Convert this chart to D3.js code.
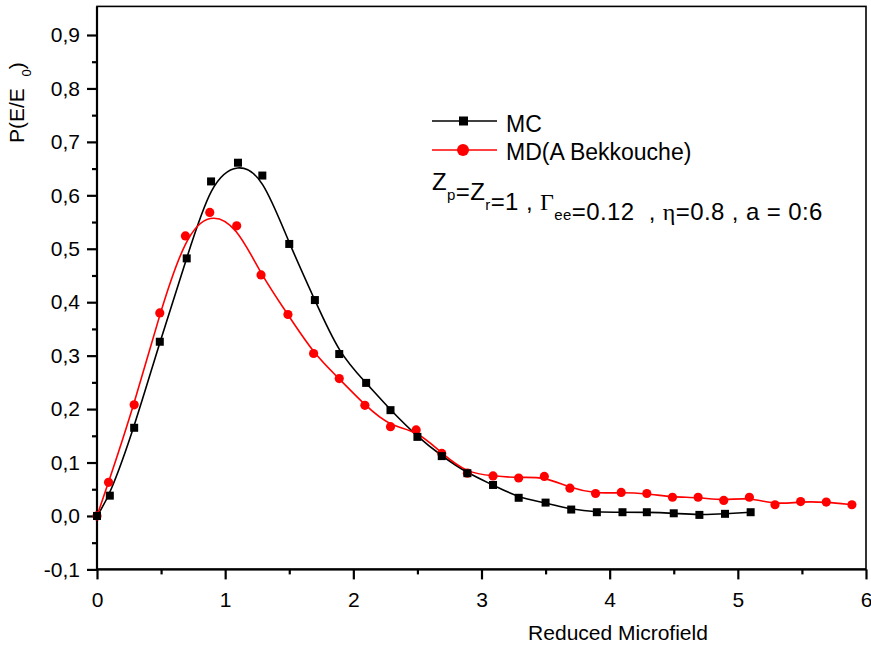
<!DOCTYPE html>
<html>
<head>
<meta charset="utf-8">
<script src="https://cdn.jsdelivr.net/npm/d3@7"></script>
<style>
  body { margin: 0; background: #fff; }
  svg { display: block; font-family: "Liberation Sans", Arial, sans-serif; }
  .axis path, .axis line { stroke: #000; stroke-width: 2.2; }
  .axis text { font-size: 21px; fill: #000; }
  .frame { fill: none; stroke: #000; stroke-width: 1.6; }
  .legend text { fill: #000; }
</style>
</head>
<body>
<div id="chart"></div>
<script>
// Monte Carlo microfield distribution
var mc_x = [0, 0.1, 0.29, 0.49, 0.7, 0.89, 1.1, 1.29, 1.5, 1.7, 1.89, 2.1, 2.29, 2.5,
            2.69, 2.89, 3.09, 3.29, 3.5, 3.7, 3.9, 4.1, 4.29, 4.5, 4.7, 4.9, 5.1];
var mc_y = [0, 0.038, 0.165, 0.326, 0.482, 0.626, 0.661, 0.637, 0.509, 0.404, 0.303, 0.249,
            0.198, 0.148, 0.112, 0.080, 0.058, 0.034, 0.025, 0.012, 0.007, 0.007, 0.007,
            0.005, 0.002, 0.004, 0.007];

// molecular dynamics (A Bekkouche)
var md_x = [0, 0.09, 0.29, 0.49, 0.69, 0.88, 1.09, 1.28, 1.49, 1.69, 1.89, 2.09, 2.29, 2.49,
            2.69, 2.89, 3.09, 3.29, 3.49, 3.69, 3.89, 4.09, 4.29, 4.49, 4.69, 4.89, 5.09,
            5.29, 5.49, 5.69, 5.89];
var md_y = [0, 0.063, 0.208, 0.380, 0.524, 0.568, 0.543, 0.451, 0.377, 0.304, 0.257, 0.207,
            0.167, 0.161, 0.117, 0.080, 0.075, 0.071, 0.074, 0.052, 0.042, 0.044, 0.042,
            0.035, 0.035, 0.029, 0.035, 0.021, 0.027, 0.026, 0.021];

var x_ticks = [0, 1, 2, 3, 4, 5, 6];
var x_minor = [0.5, 1.5, 2.5, 3.5, 4.5, 5.5];
var y_ticks = [-0.1, 0, 0.1, 0.2, 0.3, 0.4, 0.5, 0.6, 0.7, 0.8, 0.9];
var y_minor = [-0.05, 0.05, 0.15, 0.25, 0.35, 0.45, 0.55, 0.65, 0.75, 0.85];

var x_title = 'Reduced Microfield';
var series_names = ['MC', 'MD(A Bekkouche)'];

var w = 871, h = 649;

var x = d3.scaleLinear().domain([0, 6]).range([97, 866]);
var y = d3.scaleLinear().domain([-0.1, 0.9]).range([569.4, 35]);
var y_top = 0.9535;

var comma = d3.formatLocale({ decimal: ',', thousands: '.', grouping: [3], currency: ['', ''], minus: '-' });
var y_fmt = comma.format('.1f');

var svg = d3.select('#chart').append('svg')
  .attr('width', w)
  .attr('height', h);

// box around the plot area
svg.append('rect')
  .attr('class', 'frame')
  .attr('x', x(0))
  .attr('y', y(y_top))
  .attr('width', x(6) - x(0))
  .attr('height', y(-0.1) - y(y_top));

function axis_pair(g, axis, major, minor, fmt, pad) {
  g.append('g')
    .attr('class', 'axis')
    .call(axis.tickValues(minor).tickSize(5).tickSizeOuter(0).tickFormat(''))
    .select('.domain').remove();
  g.append('g')
    .attr('class', 'axis')
    .call(axis.tickValues(major).tickSize(10).tickSizeOuter(0).tickPadding(pad).tickFormat(fmt));
}

var gx = svg.append('g').attr('transform', `translate(0, ${ y(-0.1) })`);
axis_pair(gx, d3.axisBottom(x), x_ticks, x_minor, d3.format('d'), 13);
gx.select('.domain').attr('d', `M${ x(0) },0H${ x(6) }`);

var gy = svg.append('g').attr('transform', `translate(${ x(0) }, 0)`);
axis_pair(gy, d3.axisLeft(y), y_ticks, y_minor, y_fmt, 7);
gy.selectAll('.domain').attr('d', `M0,${ y(-0.1) }V${ y(y_top) }`);

svg.append('text')
  .attr('x', 618)
  .attr('y', 640)
  .attr('text-anchor', 'middle')
  .style('font-size', '21px')
  .text(x_title);

// y title with the subscript zero
var yt = svg.append('text')
  .attr('transform', 'translate(24, 143) rotate(-90)')
  .style('font-size', '21px')
  .style('white-space', 'pre');
yt.append('tspan').text('P(E/E  ');
yt.append('tspan').attr('dy', 7).style('font-size', '13px').text('0');
yt.append('tspan').attr('dy', -7).text(')');

var line = d3.line()
  .x(d => x(d[0]))
  .y(d => y(d[1]))
  .curve(d3.curveBasis);

var mc = d3.zip(mc_x, mc_y);
var md = d3.zip(md_x, md_y);

svg.append('path')
  .datum(mc)
  .attr('fill', 'none')
  .attr('stroke', '#000')
  .attr('stroke-width', 1.6)
  .attr('d', line);

svg.append('path')
  .datum(md)
  .attr('fill', 'none')
  .attr('stroke', '#ff0000')
  .attr('stroke-width', 1.6)
  .attr('d', line);

svg.append('g').selectAll('circle')
  .data(md)
  .enter().append('circle')
  .attr('cx', d => x(d[0]))
  .attr('cy', d => y(d[1]))
  .attr('r', 4.6)
  .attr('fill', '#ff0000');

svg.append('g').selectAll('rect')
  .data(mc)
  .enter().append('rect')
  .attr('x', d => x(d[0]) - 4)
  .attr('y', d => y(d[1]) - 4)
  .attr('width', 8)
  .attr('height', 8)
  .attr('fill', '#000');

// legend
var lg = svg.append('g').attr('class', 'legend');

lg.append('line').attr('x1', 432).attr('x2', 497).attr('y1', 121).attr('y2', 121)
  .attr('stroke', '#000').attr('stroke-width', 1.6);
lg.append('rect').attr('x', 459).attr('y', 116.5).attr('width', 9).attr('height', 9)
  .attr('fill', '#000');
lg.append('text').attr('x', 506).attr('y', 131.5).style('font-size', '23px')
  .text(series_names[0]);

lg.append('line').attr('x1', 432).attr('x2', 497).attr('y1', 150).attr('y2', 150)
  .attr('stroke', '#ff0000').attr('stroke-width', 1.6);
lg.append('circle').attr('cx', 463).attr('cy', 150).attr('r', 6)
  .attr('fill', '#ff0000');
lg.append('text').attr('x', 506).attr('y', 160).style('font-size', '23px')
  .text(series_names[1]);

// parameters line
var pt = lg.append('text')
  .attr('x', 432)
  .attr('y', 190)
  .style('font-size', '24px')
  .style('letter-spacing', '0.4px')
  .style('white-space', 'pre');

function part(s, sub, serif) {
  pt.append('tspan').style('font-family', serif ? '"Liberation Serif", serif' : null).text(s);
  if (sub) {
    pt.append('tspan').attr('dy', 10).style('font-size', '15px').text(sub);
    pt.append('tspan').attr('dy', -10).text('');
  }
}
part('Z', 'p');
part('=Z', 'r');
part('=1 , ');
part('\u0393', 'ee', true);
part('=0.12  , ');
part('\u03b7', null, true);
part('=0.8 , a = 0:6');
</script>
</body>
</html>
